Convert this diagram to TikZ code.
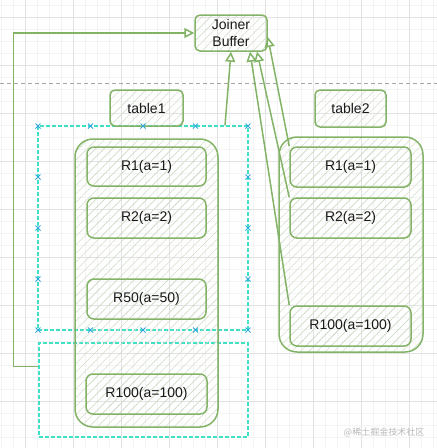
\documentclass[tikz,border=0pt]{standalone}
\usepackage{fontspec}
\setmainfont{Liberation Sans}
\newfontfamily\cjk{Noto Sans CJK SC}
\usetikzlibrary{arrows.meta,patterns.meta}

\definecolor{sketchgreen}{HTML}{82B366}
\definecolor{hatchgreen}{HTML}{D2DDCB}
\definecolor{dashcyan}{HTML}{3FE0C5}
\definecolor{pinblue}{HTML}{2FA8E0}
\definecolor{gridmajor}{HTML}{E2E2E2}
\definecolor{gridminor}{HTML}{F4F4F4}

\tikzset{
  box/.style={draw=sketchgreen, line width=1.5pt, rounded corners=#1,
    pattern={Lines[angle=45,distance=6pt,line width=0.55pt]}, pattern color=hatchgreen,
    inner sep=0pt, text=black!90, font=\fontsize{14}{17}\selectfont},
  box/.default=7pt,
  dashbox/.style={draw=dashcyan, line width=1.2pt, dash pattern=on 4pt off 2pt, inner sep=0pt},
  link/.style={draw=sketchgreen, line width=1.5pt, -{Triangle[open, length=10pt, width=10pt]}},
  xpin/.style={draw=pinblue, line width=0.9pt}
}

\begin{document}
\begin{tikzpicture}[x=1pt, y=-1pt]
\useasboundingbox (0,0) rectangle (437,448);

% background grid
\foreach \gx in {1,13,...,433} \draw[gridminor, line width=0.5pt] (\gx,0) -- (\gx,448);
\foreach \gy in {5,17,...,445} \draw[gridminor, line width=0.5pt] (0,\gy) -- (437,\gy);
\foreach \gx in {25,73,...,409} \draw[gridmajor, line width=0.7pt] (\gx,0) -- (\gx,448);
\foreach \gy in {17,65,...,401} \draw[gridmajor, line width=0.7pt] (0,\gy) -- (437,\gy);
\draw[black!35, line width=0.8pt, dash pattern=on 4pt off 3pt] (0,83) -- (437,83);

% selection frames
\node (dashA) [dashbox, minimum width=210pt, minimum height=204pt] at (143,228) {};
\node (dashB) [dashbox, minimum width=209pt, minimum height=94pt] at (143.5,390) {};

% table1
\node (bigL) [box=18pt, minimum width=143pt, minimum height=288pt] at (146.5,283) {};
\node (lR1) [box, minimum width=119pt, minimum height=39pt] at (146.5,166.5) {R1(a=1)};
\node (lR2) [box, minimum width=119pt, minimum height=40pt] at (146.5,218) {R2(a=2)};
\node (lR50) [box, minimum width=119pt, minimum height=40pt] at (146.5,299) {R50(a=50)};
\node (lR100) [box, minimum width=121pt, minimum height=40pt] at (146.5,394) {R100(a=100)};

% table2
\node (bigR) [box=18pt, minimum width=144pt, minimum height=215pt] at (351,244.5) {};
\node (rR1) [box, minimum width=121pt, minimum height=40pt] at (350.5,167) {R1(a=1)};
\node (rR2) [box, minimum width=121pt, minimum height=40pt] at (350.5,218) {R2(a=2)};
\node (rR100) [box, minimum width=121pt, minimum height=40pt] at (350.5,326) {R100(a=100)};

% labels and buffer
\node (buffer) [box=5pt, minimum width=72pt, minimum height=36pt, align=center] at (231,33) {Joiner\\Buffer};
\node (table1) [box=5pt, minimum width=73pt, minimum height=36pt] at (146.5,108) {table1};
\node (table2) [box=5pt, minimum width=71pt, minimum height=37pt] at (350.5,108.5) {table2};

% links into the buffer
\draw[link] ([yshift=-24pt]dashB.north west) -- ++(-25,0) |- (buffer.west);
\draw[link] ([xshift=82pt]dashA.north) -- (buffer.south);
\draw[link] (rR100.north west) -- ([xshift=19pt]buffer.south);
\draw[link] (rR2.north west) -- ([xshift=26pt]buffer.south);
\draw[link] (rR1.north west) -- ([yshift=-4pt]buffer.east);

% connection pins on the first frame
\foreach \px in {38,90.5,143,195.5,248} {
  \draw[xpin] (\px-2.5,123.5) -- (\px+2.5,128.5) (\px-2.5,128.5) -- (\px+2.5,123.5);
  \draw[xpin] (\px-2.5,327.5) -- (\px+2.5,332.5) (\px-2.5,332.5) -- (\px+2.5,327.5);
}
\foreach \py in {177,228,279} {
  \draw[xpin] (35.5,\py-2.5) -- (40.5,\py+2.5) (35.5,\py+2.5) -- (40.5,\py-2.5);
  \draw[xpin] (245.5,\py-2.5) -- (250.5,\py+2.5) (245.5,\py+2.5) -- (250.5,\py-2.5);
}

\node (wm) [text=black!28, font=\cjk\fontsize{9}{9}\selectfont] at (384,432) {@稀土掘金技术社区};
\end{tikzpicture}
\end{document}
